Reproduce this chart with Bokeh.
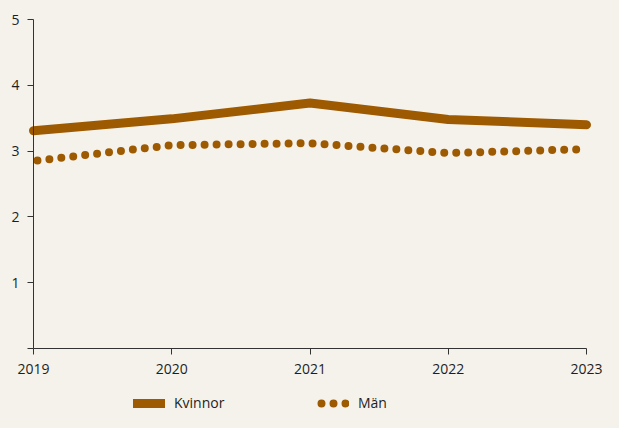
from bokeh.plotting import figure
from bokeh.models import ColumnDataSource, Legend, LegendItem, FixedTicker, Range1d
from bokeh.embed import file_html
from bokeh.resources import INLINE

years = [2019, 2020, 2021, 2022, 2023]
kvinnor = [3.31, 3.49, 3.73, 3.48, 3.40]
man = [2.85, 3.09, 3.12, 2.97, 3.03]
y_ticks = [0, 1, 2, 3, 4, 5]
series_names = ["Kvinnor", "Män"]

BG = "#f5f2eb"
LINE = "#9e5a00"
AX = "#333333"
TXT = "#1e1e1e"
FONT = "Open Sans"

W, H = 603, 412
# pixel layout of the axes inside the (full-size) frame
X_LEFT_PX, X_RIGHT_PX = 33, 586
Y_TOP_PX, Y_ZERO_PX = 19, 348
x0, x1 = years[0], years[-1]
ppx = (X_RIGHT_PX - X_LEFT_PX) / (x1 - x0)
ppy = (Y_ZERO_PX - Y_TOP_PX) / 5.0
x_range = Range1d(x0 - X_LEFT_PX / ppx, x1 + (W - X_RIGHT_PX) / ppx)
y_range = Range1d(-(H - Y_ZERO_PX) / ppy, 5 + Y_TOP_PX / ppy)

src = ColumnDataSource(dict(year=years, kvinnor=kvinnor, man=man))

p = figure(width=W, height=H, output_backend="svg", toolbar_location=None,
           x_range=x_range, y_range=y_range,
           min_border_left=0, min_border_right=0, min_border_top=0, min_border_bottom=0,
           background_fill_color=BG, border_fill_color=BG, outline_line_color=None)

r1 = p.line("year", "kvinnor", source=src, line_color=LINE, line_width=9, line_cap="round", line_join="round")
r2 = p.line("year", "man", source=src, line_color=LINE, line_width=8, line_cap="round",
            line_dash="0 12", line_dash_offset=8)

p.xgrid.visible = False
p.ygrid.visible = False

p.xaxis.ticker = FixedTicker(ticks=years)
p.xaxis.fixed_location = 0
p.xaxis.bounds = (x0, x1)
p.yaxis.ticker = FixedTicker(ticks=y_ticks)
p.yaxis.fixed_location = x0
p.yaxis.bounds = (0, 5)
p.yaxis.major_label_overrides = {0: ""}
for ax in (p.xaxis[0], p.yaxis[0]):
    ax.axis_line_color = AX
    ax.axis_line_width = 1
    ax.major_tick_line_color = AX
    ax.major_tick_out = 6
    ax.major_tick_in = 0
    ax.minor_tick_line_color = None
    ax.major_label_text_font = FONT
    ax.major_label_text_font_size = "14px"
    ax.major_label_text_color = TXT
p.xaxis.major_label_standoff = 9
p.yaxis.major_label_standoff = 8

legend = Legend(items=[LegendItem(label=series_names[0], renderers=[r1]),
                       LegendItem(label=series_names[1], renderers=[r2])],
                orientation="horizontal", location=(133, 0),
                glyph_width=32, glyph_height=18, label_standoff=9, label_width=135, spacing=8,
                padding=4, margin=0, border_line_color=None, background_fill_alpha=0,
                label_text_font=FONT, label_text_font_size="14px", label_text_color=TXT)
p.add_layout(legend, "center")

html = file_html(p, INLINE)
html = html.replace("</head>", "<style>html, body { background: %s; }</style></head>" % BG, 1)
open("out.html", "w").write(html)
